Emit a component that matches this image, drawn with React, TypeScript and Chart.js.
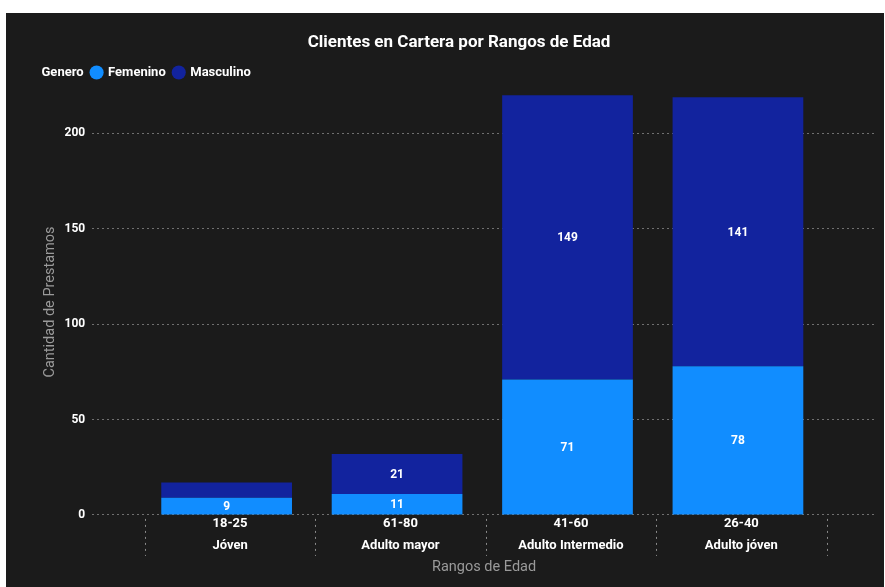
import React, { useEffect, useRef } from 'react';
import { Chart, registerables } from 'chart.js';

Chart.register(...registerables);

// ---- data ----
const rangos = ['18-25', '61-80', '41-60', '26-40'];
const etapas = ['Jóven', 'Adulto mayor', 'Adulto Intermedio', 'Adulto jóven'];
const femenino = [9, 11, 71, 78];
const masculino = [8, 21, 149, 141];
const yTicks = [0, 50, 100, 150, 200];
const yMax = 223.3;
const xMin = -0.789;
const xMax = 3.81;
const labelShift = 0.02; // labels/separators sit slightly right of the bar centres

const chartTitle = 'Clientes en Cartera por Rangos de Edad';
const legendTitle = 'Genero';
const serieF = 'Femenino';
const serieM = 'Masculino';
const yTitle = 'Cantidad de Prestamos';
const xTitle = 'Rangos de Edad';

const COLOR_F = '#118DFF';
const COLOR_M = '#12239E';
const BG = '#1b1b1b';
const FONT = 'Roboto, "DejaVu Sans", sans-serif';

export default function App() {
  const ref = useRef<HTMLCanvasElement>(null);

  useEffect(() => {
    const canvas = ref.current;
    if (!canvas) return;

    const titlePlugin = {
      id: 'titlePlugin',
      afterDraw(chart: any) {
        const ctx = chart.ctx;
        ctx.save();
        ctx.font = `bold 17px ${FONT}`;
        ctx.fillStyle = '#ffffff';
        ctx.textAlign = 'center';
        ctx.textBaseline = 'middle';
        ctx.fillText(chartTitle, chart.width / 2 + 14, 30);
        ctx.restore();
      },
    };

    const valueLabels = {
      id: 'valueLabels',
      afterDatasetsDraw(chart: any) {
        const ctx = chart.ctx;
        ctx.save();
        ctx.font = `bold 12px ${FONT}`;
        ctx.fillStyle = '#ffffff';
        ctx.textAlign = 'center';
        ctx.textBaseline = 'middle';
        chart.data.datasets.forEach((ds: any, di: number) => {
          const meta = chart.getDatasetMeta(di);
          meta.data.forEach((el: any, i: number) => {
            const h = Math.abs(el.base - el.y);
            if (h < 16) return;
            ctx.fillText(String(ds.data[i].y), el.x, (el.y + el.base) / 2 + 1);
          });
        });
        ctx.restore();
      },
    };

    const separators = {
      id: 'separators',
      afterDraw(chart: any) {
        const xs = chart.scales.x;
        const ca = chart.chartArea;
        const ctx = chart.ctx;
        ctx.save();
        ctx.strokeStyle = '#8a8a8a';
        ctx.lineWidth = 1;
        ctx.setLineDash([2, 4]);
        for (let i = 0; i <= rangos.length; i++) {
          const px = Math.round(xs.getPixelForValue(i - 0.5 + labelShift)) + 0.5;
          ctx.beginPath();
          ctx.moveTo(px, ca.bottom + 4);
          ctx.lineTo(px, ca.bottom + 41);
          ctx.stroke();
        }
        ctx.restore();
      },
    };

    const chart = new Chart(canvas, {
      type: 'bar',
      data: {
        datasets: [
          {
            label: serieF,
            data: femenino.map((v, i) => ({ x: i, y: v })),
            backgroundColor: COLOR_F,
            borderWidth: 0,
          },
          {
            label: serieM,
            data: masculino.map((v, i) => ({ x: i, y: v })),
            backgroundColor: COLOR_M,
            borderWidth: 0,
          },
        ],
      },
      options: {
        responsive: false,
        animation: false,
        devicePixelRatio: 1,
        datasets: {
          bar: { barPercentage: 0.767, categoryPercentage: 1 },
        },
        layout: { padding: { left: 11, right: 8, top: 45, bottom: 11 } },
        plugins: {
          title: { display: false },
          tooltip: { enabled: false },
          legend: {
            display: true,
            position: 'top',
            align: 'start',
            labels: {
              color: '#ffffff',
              font: { family: FONT, size: 13, weight: 'bold' },
              usePointStyle: true,
              pointStyle: 'circle',
              boxWidth: 10,
              boxHeight: 10,
              padding: 8,
              generateLabels: (c: any) => {
                const items = [
                  {
                    text: legendTitle,
                    fillStyle: 'rgba(0,0,0,0)',
                    strokeStyle: 'rgba(0,0,0,0)',
                    lineWidth: 0,
                    pointStyle: 'circle',
                    fontColor: '#ffffff',
                    hidden: false,
                    datasetIndex: -1,
                  },
                ];
                c.data.datasets.forEach((ds: any, i: number) => {
                  items.push({
                    text: ds.label,
                    fillStyle: ds.backgroundColor,
                    strokeStyle: ds.backgroundColor,
                    lineWidth: 0,
                    pointStyle: 'circle',
                    fontColor: '#ffffff',
                    hidden: false,
                    datasetIndex: i,
                  });
                });
                return items;
              },
            },
          },
        },
        scales: {
          x: {
            type: 'linear',
            stacked: true,
            offset: false,
            min: xMin,
            max: xMax,
            afterBuildTicks: (scale: any) => {
              scale.ticks = rangos.map((_, i) => ({ value: i + labelShift }));
            },
            grid: { display: false, drawTicks: false, offset: false },
            border: { display: false },
            ticks: {
              autoSkip: false,
              maxRotation: 0,
              color: '#ffffff',
              padding: -2,
              font: { family: FONT, size: 13, weight: 'bold', lineHeight: 1.68 },
              callback: (v: any) => {
                const i = Math.round(v);
                return [rangos[i], etapas[i]];
              },
            },
            title: {
              display: true,
              text: xTitle,
              color: '#9a9a9a',
              font: { family: FONT, size: 14.5 },
              padding: { top: 4, bottom: 0 },
            },
          },
          y: {
            type: 'linear',
            stacked: true,
            min: 0,
            max: yMax,
            afterBuildTicks: (scale: any) => {
              scale.ticks = yTicks.map((v) => ({ value: v }));
            },
            grid: { color: '#707070', lineWidth: 1, drawTicks: false },
            border: { display: false, dash: [2, 3] },
            ticks: {
              color: '#ffffff',
              padding: 7,
              font: { family: FONT, size: 12, weight: 'bold' },
            },
            title: {
              display: true,
              text: yTitle,
              color: '#9a9a9a',
              font: { family: FONT, size: 14.5, lineHeight: 1 },
              padding: { top: 26, bottom: 0 },
            },
          },
        },
      },
      plugins: [titlePlugin, valueLabels, separators],
    } as any);

    return () => chart.destroy();
  }, []);

  return (
    <div
      style={{
        position: 'fixed',
        left: 6,
        top: 13,
        width: 878,
        height: 574,
        background: BG,
      }}
    >
      <canvas ref={ref} width={878} height={574} style={{ display: 'block' }} />
    </div>
  );
}
